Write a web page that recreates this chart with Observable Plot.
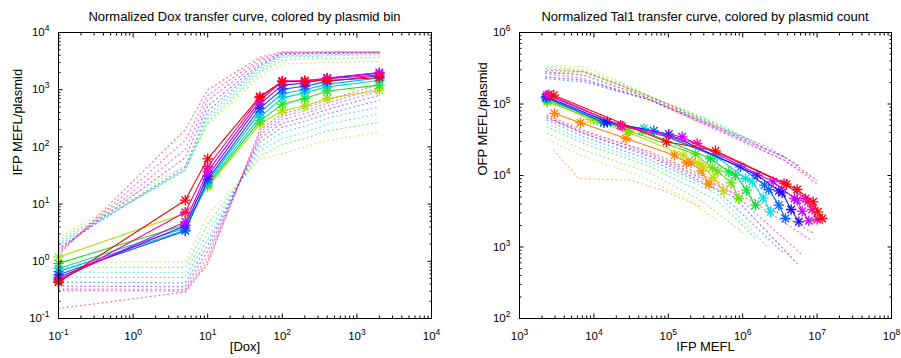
<!DOCTYPE html>
<html>
<head>
<meta charset="utf-8">
<script src="https://cdn.jsdelivr.net/npm/d3@7"></script>
<script src="https://cdn.jsdelivr.net/npm/@observablehq/plot@0.6"></script>
<style>
  body { margin: 0; background: #fff; font-family: "Liberation Sans", Arial, sans-serif; }
  #wrap { position: relative; width: 901px; height: 358px; overflow: hidden; }
  .panel { position: absolute; top: 0; height: 358px; }
  .title { box-sizing: border-box; height: 24px; padding-top: 10px; line-height: 14px; font-size: 13px; text-align: center; white-space: nowrap; color: #000; }
</style>
</head>
<body>
<div id="wrap">
  <div class="panel" style="left:0;width:450px">
    <div class="title" style="padding-left:58px;padding-right:19px">Normalized Dox transfer curve, colored by plasmid bin</div>
    <div id="left"></div>
  </div>
  <div class="panel" style="left:450px;width:451px">
    <div class="title" style="padding-left:69px;padding-right:10px">Normalized Tal1 transfer curve, colored by plasmid count</div>
    <div id="right"></div>
  </div>
</div>
<script>
// ---------- Left panel data: [Dox] vs IFP MEFL/plasmid, one row per plasmid bin ----------
const dox = [0.1, 5, 10, 50, 100, 200, 400, 2000];
const binColors = ["#a8e000", "#20e020", "#00e0b0", "#00b0ff", "#0050ff", "#6a00ff", "#d000ff", "#ff0090", "#ff0000"];
const binMean = [
  [1.18, 6.9, 20, 250, 430, 520, 700, 980],
  [0.92, 4.3, 21.5, 285, 560, 700, 950, 1200],
  [0.75, 3.8, 23, 330, 720, 880, 1120, 1450],
  [0.66, 3.5, 25, 400, 860, 1000, 1250, 1600],
  [0.58, 3.4, 27, 470, 1020, 1150, 1400, 1750],
  [0.52, 4.2, 31, 560, 1200, 1300, 1580, 1950],
  [0.48, 4.9, 37, 640, 1400, 1420, 1600, 2000],
  [0.45, 7.2, 45, 720, 1420, 1450, 1550, 1800],
  [0.43, 11.7, 62, 760, 1380, 1400, 1450, 1620]
];
const binUpper = [
  [2.6, 48, 240, 1700, 2800, 2900, 3000, 3100],
  [2.3, 40, 270, 2000, 3300, 3400, 3500, 3700],
  [2.1, 38, 310, 2200, 3700, 3800, 3900, 4100],
  [1.9, 40, 360, 2400, 3900, 4000, 4100, 4300],
  [1.7, 45, 420, 2600, 4100, 4200, 4300, 4400],
  [1.6, 65, 520, 2800, 4300, 4350, 4400, 4500],
  [1.5, 90, 650, 3100, 4400, 4450, 4500, 4600],
  [1.4, 130, 800, 3400, 4500, 4500, 4550, 4550],
  [1.3, 200, 1000, 3700, 4600, 4600, 4600, 4500]
];
const binLower = [
  [0.96, 0.98, 6.5, 60, 76, 100, 130, 180],
  [0.79, 0.78, 4.5, 70, 110, 140, 190, 270],
  [0.65, 0.63, 3.2, 85, 140, 180, 250, 380],
  [0.53, 0.52, 2.4, 100, 180, 230, 320, 500],
  [0.43, 0.42, 1.9, 120, 220, 280, 380, 650],
  [0.37, 0.36, 1.5, 140, 260, 330, 450, 800],
  [0.33, 0.32, 1.2, 160, 300, 380, 520, 950],
  [0.31, 0.30, 1.0, 180, 340, 430, 580, 1100],
  [0.15, 0.29, 0.9, 200, 380, 480, 650, 1250]
];

// ---------- Right panel data: IFP MEFL vs OFP MEFL/plasmid, one row per plasmid count ----------
const countColors = ["#ff8000", "#c8d800", "#60e000", "#00e030", "#00e0e0", "#0060ff", "#2000ff", "#c000ff", "#ff00a0", "#ff0000"];
const countIFP = [
  [2950, 6600, 27100, 121100, 175600, 202900, 276600, 350600],
  [2400, 9000, 28000, 158500, 257300, 300400, 400900, 557800],
  [2350, 11100, 29500, 232100, 388800, 463200, 699800, 887300],
  [2350, 13600, 44500, 369200, 651000, 800500, 1125000, 1486000],
  [2310, 15100, 46900, 453700, 1090000, 1341000, 1884000, 2364000],
  [2280, 13600, 63900, 934100, 1963000, 2245000, 3060000, 3761000],
  [2310, 15100, 101700, 1565000, 3060000, 3393000, 4483000, 5682000],
  [2350, 22800, 153600, 2567000, 4969000, 5397000, 6300000, 7744000],
  [2480, 24000, 244300, 3600000, 6986000, 7508000, 8585000, 10020000],
  [2890, 94600, 430900, 3879000, 5397000, 8855000, 10230000, 11700000]
];
const countOFP = [
  [73660, 54530, 32920, 19250, 15200, 15040, 11620, 7565],
  [113100, 60720, 40810, 19250, 14720, 13220, 9376, 6039],
  [107200, 59430, 42140, 19880, 12800, 11500, 7896, 4768],
  [115600, 56320, 42140, 17290, 11250, 10110, 6237, 3847],
  [119400, 54530, 45430, 18250, 9079, 8154, 4871, 3103],
  [123300, 54530, 42140, 13220, 7325, 6371, 3847, 2503],
  [126000, 56320, 37850, 10110, 6103, 5722, 3346, 2249],
  [132900, 50580, 34740, 8154, 4768, 4519, 3171, 2323],
  [135800, 48980, 28030, 7730, 4768, 4282, 3346, 2424],
  [132900, 29580, 22130, 7565, 6371, 4282, 3103, 2503]
];
const upperIFP = [
  [2600, 7300, 20500, 58000, 162000, 271000],
  [2350, 7300, 20500, 58000, 162000, 450000],
  [2350, 7300, 20500, 58000, 271000, 760000],
  [2240, 7300, 20500, 58000, 450000, 1270000],
  [2240, 7300, 58000, 450000, 1270000, 2130000],
  [2240, 7300, 58000, 450000, 2130000, 3600000],
  [2240, 7300, 58000, 450000, 3600000, 6000000],
  [2240, 7300, 58000, 450000, 3600000, 8200000],
  [2240, 7300, 58000, 450000, 3600000, 10500000],
  [2350, 7300, 58000, 450000, 3600000, 10000000]
];
const upperOFP = [
  [267000, 282000, 193000, 113000, 69800, 53400],
  [349000, 331000, 215000, 126000, 82000, 48000],
  [331000, 297000, 204000, 126000, 66100, 38700],
  [314000, 282000, 193000, 126000, 53400, 31200],
  [282000, 253000, 119000, 50600, 31200, 22600],
  [227000, 204000, 113000, 48000, 25200, 18200],
  [240000, 215000, 113000, 45400, 18200, 13200],
  [267000, 227000, 113000, 43100, 16400, 9580],
  [282000, 253000, 119000, 45400, 16400, 7330],
  [297000, 282000, 126000, 48000, 18200, 8610]
];
const lowerIFP = [
  [2890, 6270, 31000, 96600, 271000],
  [2480, 7300, 34400, 162000, 450000],
  [2350, 7300, 58000, 271000, 1036000],
  [2350, 7300, 58000, 450000, 1565000],
  [2350, 7300, 58000, 450000, 2130000],
  [2350, 7300, 58000, 450000, 3600000],
  [2350, 7300, 58000, 760000, 5400000],
  [2350, 7300, 58000, 760000, 6000000],
  [2350, 7300, 58000, 1270000, 8200000],
  [2890, 7300, 58000, 1270000, 9040000]
];
const lowerOFP = [
  [22600, 9080, 8610, 5910, 3650],
  [31200, 18200, 10700, 5030, 2390],
  [38700, 22600, 10700, 4520, 1550],
  [48000, 28000, 13200, 4520, 1250],
  [53400, 31200, 14700, 5600, 1010],
  [59400, 34700, 16400, 6240, 811],
  [66100, 38700, 18200, 5030, 588],
  [62700, 38700, 19300, 5600, 811],
  [69800, 43100, 20300, 4520, 1250],
  [59400, 40800, 21400, 5030, 1550]
];

// ---------- Tick values ----------
const xMajorL = [0.1, 1, 10, 100, 1000, 10000];
const yMajorL = [0.1, 1, 10, 100, 1000, 10000];
const xMajorR = [1e3, 1e4, 1e5, 1e6, 1e7, 1e8];
const yMajorR = [1e2, 1e3, 1e4, 1e5, 1e6];
const minorSteps = [2, 3, 4, 5, 6, 7, 8, 9];
const minorOf = majors => majors.slice(0, -1).flatMap(m => minorSteps.map(k => k * m));

const supFmt = d => "10^" + Math.round(Math.log10(d));
const blank = () => "";

function frameAxes(xMajor, yMajor) {
  const xMinor = minorOf(xMajor), yMinor = minorOf(yMajor);
  const big = -4.5, small = -2.5;
  return [
    Plot.axisX({anchor: "bottom", ticks: xMajor, tickSize: big, tickPadding: 18, tickFormat: supFmt, fontSize: 11.5, label: null}),
    Plot.axisX({anchor: "bottom", ticks: xMinor, tickSize: small, tickFormat: blank, label: null}),
    Plot.axisX({anchor: "top", ticks: xMajor, tickSize: big, tickFormat: blank, label: null}),
    Plot.axisX({anchor: "top", ticks: xMinor, tickSize: small, tickFormat: blank, label: null}),
    Plot.axisY({anchor: "left", ticks: yMajor, tickSize: big, tickPadding: 13.5, tickFormat: supFmt, fontSize: 11.5, label: null}),
    Plot.axisY({anchor: "left", ticks: yMinor, tickSize: small, tickFormat: blank, label: null}),
    Plot.axisY({anchor: "right", ticks: yMajor, tickSize: big, tickFormat: blank, label: null}),
    Plot.axisY({anchor: "right", ticks: yMinor, tickSize: small, tickFormat: blank, label: null}),
    Plot.frame({stroke: "#000", strokeWidth: 1})
  ];
}

function starMarks(rows, color) {
  return [
    Plot.dot(rows, {x: "x", y: "y", symbol: "plus", r: 3.5, stroke: color, strokeWidth: 1.3}),
    Plot.dot(rows, {x: "x", y: "y", symbol: "times", r: 3.5, stroke: color, strokeWidth: 1.3})
  ];
}
const dotted = {strokeWidth: 1.2, strokeDasharray: "1,3.4", strokeOpacity: 0.55};

function supify(svg) {
  svg.querySelectorAll("text").forEach(t => {
    const m = t.textContent.match(/^10\^(-?\d+)$/);
    if (!m) return;
    while (t.firstChild) t.removeChild(t.firstChild);
    t.appendChild(document.createTextNode("10"));
    const ts = document.createElementNS("http://www.w3.org/2000/svg", "tspan");
    ts.setAttribute("dy", "-5");
    ts.setAttribute("font-size", "8.5");
    ts.textContent = m[1];
    t.appendChild(ts);
  });
}

const plotStyle = {fontFamily: "'Liberation Sans', Arial, sans-serif", color: "#000", background: "#fff", overflow: "visible"};

// ---------- Left chart ----------
{
  const marks = [];
  binColors.forEach((c, i) => {
    const up = dox.map((x, j) => ({x, y: binUpper[i][j]}));
    const lo = dox.map((x, j) => ({x, y: binLower[i][j]}));
    marks.push(Plot.line(up, {x: "x", y: "y", stroke: c, ...dotted}));
    marks.push(Plot.line(lo, {x: "x", y: "y", stroke: c, ...dotted}));
  });
  binColors.forEach((c, i) => {
    const rows = dox.map((x, j) => ({x, y: binMean[i][j]}));
    marks.push(Plot.line(rows, {x: "x", y: "y", stroke: c, strokeWidth: 1.1}));
    marks.push(...starMarks(rows, c));
  });
  marks.push(...frameAxes(xMajorL, yMajorL));
  marks.push(Plot.text(["[Dox]"], {text: d => d, frameAnchor: "bottom", dy: 32, fontSize: 13}));
  marks.push(Plot.text(["IFP MEFL/plasmid"], {text: d => d, frameAnchor: "left", dx: -41, rotate: -90, fontSize: 13}));
  const svg = Plot.plot({
    width: 450, height: 334,
    marginTop: 8, marginBottom: 40, marginLeft: 58, marginRight: 19,
    style: plotStyle,
    x: {type: "log", domain: [0.1, 1e4]},
    y: {type: "log", domain: [0.1, 1e4]},
    marks
  });
  supify(svg);
  document.getElementById("left").appendChild(svg);
}

// ---------- Right chart ----------
{
  const marks = [];
  countColors.forEach((c, i) => {
    const up = upperIFP[i].map((x, j) => ({x, y: upperOFP[i][j]}));
    const lo = lowerIFP[i].map((x, j) => ({x, y: lowerOFP[i][j]}));
    marks.push(Plot.line(up, {x: "x", y: "y", stroke: c, ...dotted}));
    marks.push(Plot.line(lo, {x: "x", y: "y", stroke: c, ...dotted}));
  });
  countColors.forEach((c, i) => {
    const rows = countIFP[i].map((x, j) => ({x, y: countOFP[i][j]}));
    marks.push(Plot.line(rows, {x: "x", y: "y", stroke: c, strokeWidth: 1.1}));
    marks.push(...starMarks(rows, c));
  });
  marks.push(...frameAxes(xMajorR, yMajorR));
  marks.push(Plot.text(["IFP MEFL"], {text: d => d, frameAnchor: "bottom", dy: 32, fontSize: 13}));
  marks.push(Plot.text(["OFP MEFL/plasmid"], {text: d => d, frameAnchor: "left", dx: -37, rotate: -90, fontSize: 13}));
  const svg = Plot.plot({
    width: 451, height: 334,
    marginTop: 8, marginBottom: 40, marginLeft: 69, marginRight: 10,
    style: plotStyle,
    x: {type: "log", domain: [1e3, 1e8]},
    y: {type: "log", domain: [1e2, 1e6]},
    marks
  });
  supify(svg);
  document.getElementById("right").appendChild(svg);
}
</script>
</body>
</html>
